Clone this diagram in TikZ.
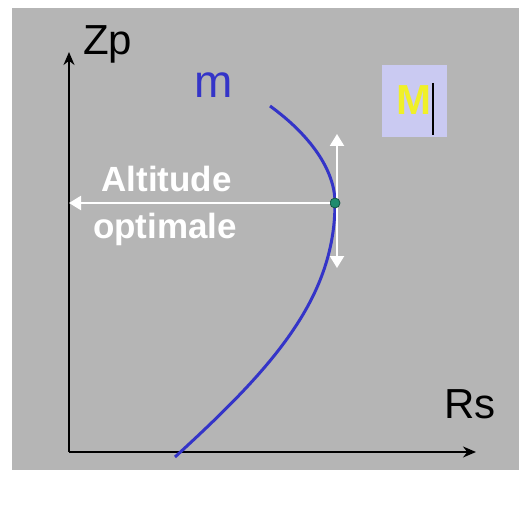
\documentclass[tikz,border=0pt]{standalone}
\usepackage{fontspec}
\setmainfont{Liberation Sans}
\usetikzlibrary{arrows.meta}
\definecolor{bg}{RGB}{181,181,181}
\definecolor{curveblue}{RGB}{52,52,200}
\definecolor{boxlav}{RGB}{202,202,242}
\definecolor{dotgreen}{RGB}{30,140,110}
\definecolor{myyellow}{RGB}{240,240,40}
\begin{document}
\begin{tikzpicture}[x=1pt,y=-1pt,
  axis/.style={line width=1.8pt,black,-{Stealth[length=13pt,width=11pt]}},
  whitearrow/.style={line width=2.2pt,white,-{Triangle[length=12pt,width=14pt]}},
  lbl/.style={inner sep=0pt,anchor=base west},
  curvestyle/.style={line width=3pt,curveblue}]
\fill[white] (0,0) rectangle (519,505);
\fill[bg] (12,8) rectangle (519,470);
\useasboundingbox (0,0) rectangle (519,505);
% axes
\coordinate (O) at (69,452);
\coordinate (ytop) at (69,52);
\coordinate (xend) at (476,452);
\draw[axis] (O) -- (ytop);
\draw[axis] (O) -- (xend);
\node[lbl,font=\fontsize{42}{42}\selectfont] (zp) at (83,55) {Zp};
\node[lbl,font=\fontsize{42}{42}\selectfont] (rs) at (444,418) {Rs};
\node[lbl,font=\fontsize{46}{46}\selectfont,text=curveblue] (m) at (194,98) {m};
% box M
\node[fill=boxlav,minimum width=65pt,minimum height=72pt,inner sep=0pt] (box) at (414.5,101) {};
\node[lbl,font=\bfseries\fontsize{42}{42}\selectfont,text=myyellow] (Mlbl) at (396,115) {M};
\coordinate (cur1) at (433,83);
\coordinate (cur2) at (433,135);
\draw[line width=1.5pt,black] (cur1) -- (cur2);
% curve
\draw[curvestyle] (270,106) .. controls (310,135) and (335,170) .. (335,203)
  .. controls (335,300) and (270,370) .. (175,457);
% vertical double arrow
\coordinate (vtop) at (337,134);
\coordinate (vbot) at (337,268);
\coordinate (vmid) at (337,203);
\draw[whitearrow] (vmid) -- (vtop);
\draw[whitearrow] (vmid) -- (vbot);
% dot
\node[circle,fill=dotgreen,draw=dotgreen!60!black,line width=0.8pt,minimum size=10pt,inner sep=0pt] (dot) at (335,203) {};
% horizontal arrow
\coordinate (yhit) at (69,203);
\draw[whitearrow] (dot.west) -- (yhit);
\node[inner sep=0pt,anchor=base,font=\bfseries\fontsize{35}{35}\selectfont,text=white] (alt) at (166.5,192) {Altitude};
\node[inner sep=0pt,anchor=base,font=\bfseries\fontsize{35}{35}\selectfont,text=white] (opt) at (165,238) {optimale};
\end{tikzpicture}
\end{document}
